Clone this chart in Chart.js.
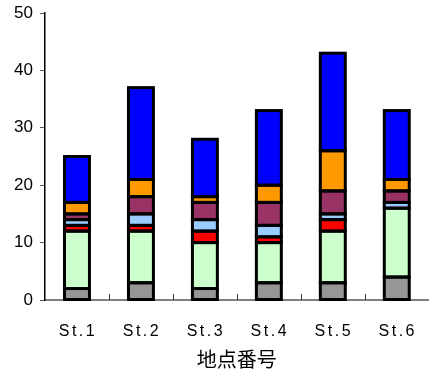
<!DOCTYPE html>
<html><head><meta charset="utf-8">
<script src="https://cdn.jsdelivr.net/npm/chart.js@4"></script>
<style>html,body{margin:0;padding:0;background:#fff}#wrap{width:435px;height:376px}</style>
</head><body><div id="wrap"><canvas id="c" width="435" height="376"></canvas></div>
<script>
const categories = ["St.1","St.2","St.3","St.4","St.5","St.6"];
const grayVals   = [2,3,2,3,3,4];
const greenVals  = [10,9,8,7,9,12];
const redVals    = [1,1,2,1,2,0];
const ltBlueVals = [1,2,2,2,1,1];
const purpleVals = [1,3,3,4,4,2];
const orangeVals = [2,3,1,3,7,2];
const blueVals   = [8,16,10,13,17,12];
const yTicks = [0,10,20,30,40,50];
const xTitle = "地点番号";

const series = [
  [grayVals,'#969696'],[greenVals,'#CCFFCC'],[redVals,'#FF0000'],[ltBlueVals,'#99CCFF'],
  [purpleVals,'#993366'],[orangeVals,'#FF9900'],[blueVals,'#0000FF']
];
const datasets = series.map(([d,c],i)=>({label:'s'+i,data:d,backgroundColor:c,borderWidth:0,barPercentage:0.39,categoryPercentage:1}));

const outlines = {id:'outlines',afterDatasetsDraw(chart){
  const ctx=chart.ctx;
  ctx.save();ctx.strokeStyle='#000';ctx.lineWidth=3;ctx.lineJoin='miter';
  chart.data.datasets.forEach((ds,i)=>{
    chart.getDatasetMeta(i).data.forEach(el=>{
      const {x,y,base,width}=el.getProps(['x','y','base','width'],true);
      if(Math.abs(base-y)<0.5) return;
      ctx.strokeRect(x-width/2,Math.min(y,base),width,Math.abs(base-y));
    });
  });
  ctx.restore();
}};
const xLabels = {id:'xLabels',afterDraw(chart){
  const x=chart.scales.x, ctx=chart.ctx, y0=chart.chartArea.bottom;
  ctx.save();ctx.strokeStyle='#333';ctx.lineWidth=1;
  for(let i=1;i<categories.length;i++){
    const px=Math.round((x.getPixelForValue(i-1)+x.getPixelForValue(i))/2)+0.5;
    ctx.beginPath();ctx.moveTo(px,y0);ctx.lineTo(px,y0-6);ctx.stroke();
  }
  ctx.fillStyle='#000';ctx.font='16px Arial, "Liberation Sans"';
  ctx.textAlign='center';ctx.textBaseline='middle';
  try{ctx.letterSpacing='2.5px';}catch(e){}
  categories.forEach((c,i)=>{ctx.fillText(c,x.getPixelForValue(i)+1,y0+32);});
  ctx.restore();
}};

new Chart(document.getElementById('c'),{
  type:'bar',
  data:{labels:categories,datasets},
  options:{
    responsive:false,animation:false,
    layout:{padding:{top:13,right:0,left:0,bottom:5}},
    plugins:{legend:{display:false},tooltip:{enabled:false}},
    scales:{
      x:{stacked:true,
        grid:{display:true,drawOnChartArea:false,drawTicks:false,color:'rgba(0,0,0,0)'},
        border:{display:true,color:'#808080',width:2},
        ticks:{color:'rgba(0,0,0,0)',font:{family:'Arial, "Liberation Sans"',size:16},padding:24,maxRotation:0},
        title:{display:true,text:xTitle,color:'#000',font:{family:'"Noto Sans CJK JP"',size:20},padding:{top:0,bottom:0}},
        afterFit(s){s.height=71;}
      },
      y:{stacked:true,min:0,max:50,
        afterBuildTicks(s){s.ticks=yTicks.map(v=>({value:v}));},
        grid:{drawOnChartArea:false,drawTicks:true,tickLength:5,color:'#555'},
        border:{display:true,color:'#000',width:1.5},
        ticks:{color:'#000',font:{family:'Arial, "Liberation Sans"',size:17},padding:7},
        afterFit(s){s.width=45;s.paddingTop=0;s.paddingBottom=0;}
      }
    }
  },
  plugins:[outlines,xLabels]
});
</script></body></html>
